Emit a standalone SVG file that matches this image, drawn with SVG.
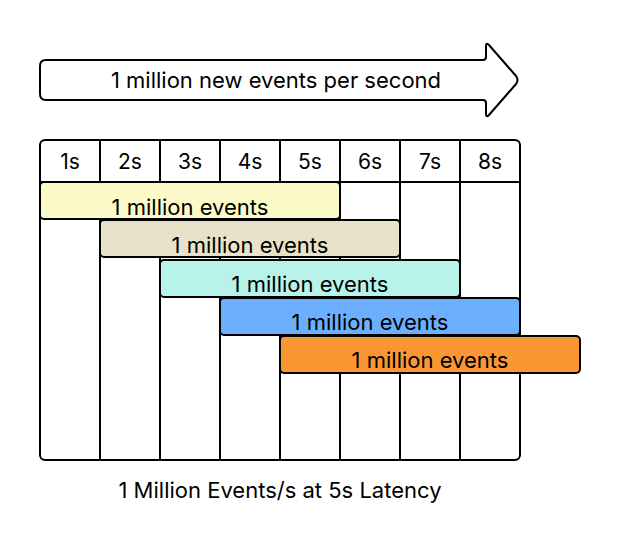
<svg xmlns="http://www.w3.org/2000/svg" width="620" height="560" viewBox="0 0 620 560">
<style>
  .ln{fill:none;stroke:#000;stroke-width:2}
  .bar{stroke:#000;stroke-width:2}
  .t{font-family:Inter,"Liberation Sans",sans-serif;font-size:22px;fill:#000;text-anchor:middle}
  .h{font-family:Inter,"Liberation Sans",sans-serif;font-size:21px;fill:#000;text-anchor:middle}
</style>
<rect width="620" height="560" fill="#fff"/>
<g id="arrow">
  <path class="ln" d="M46,60 L483,60 Q486,60 486,57 L486,46 Q486,42 489,45 L516,76 Q519,80 516,84 L489,115 Q486,118 486,114 L486,103 Q486,100 483,100 L46,100 Q40,100 40,94 L40,66 Q40,60 46,60 Z" style="fill:#fff"/>
  <text class="t" x="276" y="88">1 million new events per second</text>
</g>
<g id="grid">
  <rect class="ln" x="40" y="140" width="480" height="320" rx="5"/>
  <line class="ln" x1="40" y1="182" x2="520" y2="182"/>
  <line class="ln" x1="100" y1="140" x2="100" y2="460"/>
  <line class="ln" x1="160" y1="140" x2="160" y2="460"/>
  <line class="ln" x1="220" y1="140" x2="220" y2="460"/>
  <line class="ln" x1="280" y1="140" x2="280" y2="460"/>
  <line class="ln" x1="340" y1="140" x2="340" y2="460"/>
  <line class="ln" x1="400" y1="140" x2="400" y2="460"/>
  <line class="ln" x1="460" y1="140" x2="460" y2="460"/>
  <text class="h" x="70" y="169">1s</text>
  <text class="h" x="130" y="169">2s</text>
  <text class="h" x="190" y="169">3s</text>
  <text class="h" x="250" y="169">4s</text>
  <text class="h" x="310" y="169">5s</text>
  <text class="h" x="370" y="169">6s</text>
  <text class="h" x="430" y="169">7s</text>
  <text class="h" x="490" y="169">8s</text>
</g>
<g id="bar1">
  <rect class="bar" x="40" y="182" width="300" height="37" rx="4" fill="#fcfac8"/>
  <text class="t" x="190" y="215">1 million events</text>
</g>
<g id="bar2">
  <rect class="bar" x="100" y="220" width="300" height="37" rx="4" fill="#e9e2c9"/>
  <text class="t" x="250" y="253">1 million events</text>
</g>
<g id="bar3">
  <rect class="bar" x="160" y="260" width="300" height="37" rx="4" fill="#b7f3e9"/>
  <text class="t" x="310" y="292">1 million events</text>
</g>
<g id="bar4">
  <rect class="bar" x="220" y="298" width="300" height="37" rx="4" fill="#6cafff"/>
  <text class="t" x="370" y="330">1 million events</text>
</g>
<g id="bar5">
  <rect class="bar" x="280" y="336" width="300" height="37" rx="4" fill="#fb9733"/>
  <text class="t" x="430" y="368">1 million events</text>
</g>
<g id="caption">
  <text class="t" x="280" y="498">1 Million Events/s at 5s Latency</text>
</g>
</svg>
